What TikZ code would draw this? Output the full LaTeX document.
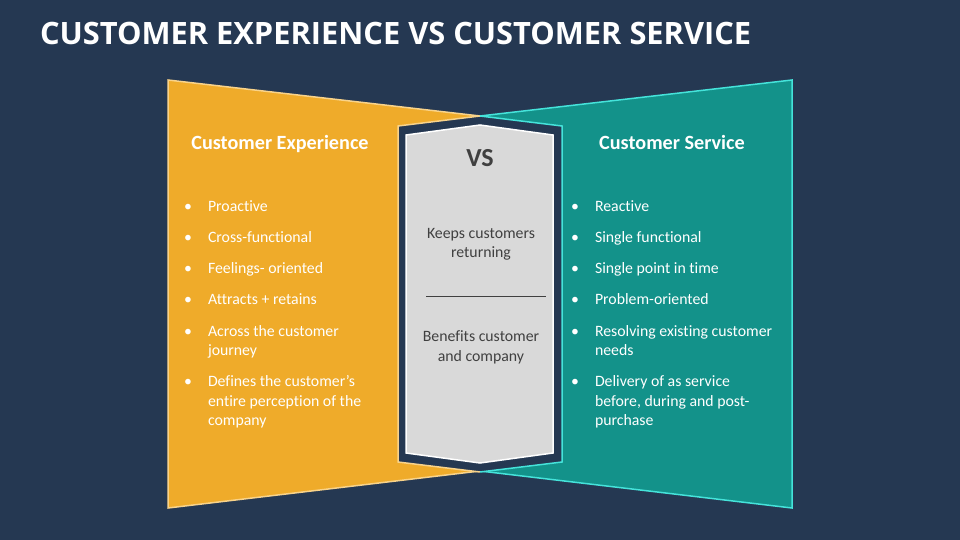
\documentclass[tikz,border=0pt]{standalone}
\usepackage{fontspec}
\setmainfont{Carlito}[Ligatures=CommonOff]
\newfontfamily\titlefont{Open Sans}
\usetikzlibrary{positioning}
\definecolor{backdrop}{HTML}{253852}
\definecolor{amber}{HTML}{EFAB2A}
\definecolor{amberline}{HTML}{F9D38A}
\definecolor{sea}{HTML}{13928A}
\definecolor{sealine}{HTML}{45E3DA}
\definecolor{panel}{HTML}{D9D9D9}
\definecolor{inkgrey}{HTML}{404040}
\newcommand{\MidX}{480}
\newcommand{\LeftX}{208}
\newcommand{\RightX}{595}
\newcommand{\DotGap}{20}
\newcommand{\HeadY}{150}

\begin{document}
\begin{tikzpicture}[
    x=1pt, y=-1pt,
    every node/.style={inner sep=0pt, outer sep=0pt},
    heading/.style={anchor=base, text=white, font=\fontsize{20.2}{24}\selectfont\bfseries},
    item/.style={anchor=base west, align=left, text=white, font=\fontsize{15.8}{19.5}\selectfont},
    dot/.style={anchor=base, text=white, font=\fontsize{15.8}{19.5}\selectfont},
    middle/.style={anchor=base, align=center, text=inkgrey, font=\fontsize{15.8}{19.5}\selectfont},
  ]

% --- Backdrop ------------------------------------------------------------------
\fill[backdrop] (0,0) rectangle (960,540);
\useasboundingbox (0,0) rectangle (960,540);
\node[anchor=base west, text=white, font=\titlefont\fontsize{30.8}{36}\selectfont\bfseries] (title) at (40,45)
  {CUSTOMER EXPERIENCE VS CUSTOMER SERVICE};

% --- The two wings -------------------------------------------------------------
\draw[amberline, fill=amber, line width=1.5pt, line join=miter]
  (168,80) -- (\MidX,116) -- (\MidX,471) -- (168,508) -- cycle;
\draw[sealine, fill=sea, line width=1.5pt, line join=miter]
  (792,80) -- (\MidX,116) -- (\MidX,471) -- (792,508) -- cycle;

% --- Centre panel --------------------------------------------------------------
\fill[backdrop] (398,126) -- (\MidX,116) -- (562,126) -- (562,462) -- (\MidX,472) -- (398,462) -- cycle;
\draw[amberline, line width=1.5pt] (\MidX,116) -- (398,126) -- (398,462) -- (\MidX,472);
\draw[sealine, line width=1.5pt] (\MidX,116) -- (562,126) -- (562,462) -- (\MidX,472);
\draw[white, fill=panel, line width=1.5pt]
  (406,135) -- (\MidX,125) -- (553,135) -- (553,453) -- (\MidX,463) -- (406,453) -- cycle;

% multi-line nodes sit on the baseline of their last line
\node[anchor=base, text=inkgrey, font=\fontsize{26}{30}\selectfont\bfseries] (vs) at (\MidX,167) {VS};
\node[middle] (keeps) at (481,257.5) {Keeps customers\\returning};
\node[middle] (benefits) at (481,361) {Benefits customer\\and company};
\draw[inkgrey, line width=0.9pt] (426,296) -- (546,296);

% --- Customer experience -------------------------------------------------------
\node[heading] (cxhead) at (280,\HeadY) {Customer Experience};
\foreach \i/\y/\dy/\what in {1/211/211/{Proactive}, 2/242/242/{Cross-functional}, 3/273/273/{Feelings- oriented},
    4/304/304/{Attracts + retains}, 5/355.5/336/{Across the customer\\journey},
    6/425.5/386.5/{Defines the customer’s\\entire perception of the\\company}} {
  \node[dot] (cxdot\i) at (\LeftX-\DotGap,\dy) {\textbullet};
  \node[item] (cx\i) at (\LeftX,\y) {\what};
}

% --- Customer service ----------------------------------------------------------
\node[heading] (cshead) at (672,\HeadY) {Customer Service};
\foreach \i/\y/\dy/\what in {1/211/211/{Reactive}, 2/242/242/{Single functional}, 3/273/273/{Single point in time},
    4/304/304/{Problem-oriented}, 5/355.5/336/{Resolving existing customer\\needs},
    6/425.5/386.5/{Delivery of as service\\before, during and post-\\purchase}} {
  \node[dot] (csdot\i) at (\RightX-\DotGap,\dy) {\textbullet};
  \node[item] (cs\i) at (\RightX,\y) {\what};
}

\end{tikzpicture}
\end{document}
